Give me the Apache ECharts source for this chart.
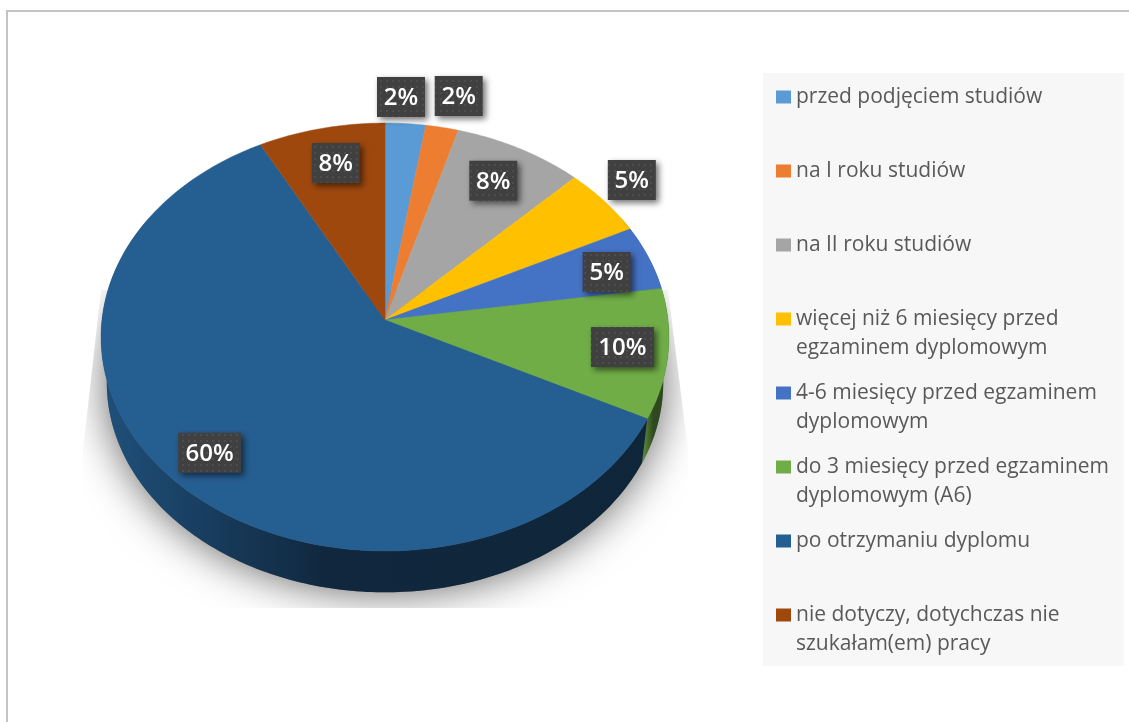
<!DOCTYPE html>
<html>
<head>
<meta charset="utf-8">
<title>Pie</title>
<script src="https://cdn.jsdelivr.net/npm/echarts@6/dist/echarts.min.js"></script>
<style>
	html, body { margin: 0; padding: 0; background: #fff; }
	#chart { width: 1129px; height: 722px; }
</style>
</head>
<body>
<div id="chart"></div>
<script>
const categories = [
	"przed podjęciem studiów",
	"na I roku studiów",
	"na II roku studiów",
	"więcej niż 6 miesięcy przed\negzaminem dyplomowym",
	"4-6 miesięcy przed egzaminem\ndyplomowym",
	"do 3 miesięcy przed egzaminem\ndyplomowym (A6)",
	"po otrzymaniu dyplomu",
	"nie dotyczy, dotychczas nie\nszukałam(em) pracy"
];
const values = [2.49, 2.01, 8.0, 5.2, 4.9, 9.8, 59.8, 7.8];
const colors = ["#5B9BD5", "#ED7D31", "#A5A5A5", "#FFC000", "#4472C4", "#70AD47", "#255E91", "#9E480E"];

// where each % box sits: radius on the disc and angle nudge from the slice middle
const labelRadius = [1.146, 1.185, 0.8, 1.153, 0.83, 0.84, 0.838, 0.806];
const labelNudge = [-1.4, 1.3, -0.3, -1.4, 1.4, -0.4, 0.5, 0.8];
const legendIconY = [97, 171, 245, 319, 393, 467, 541, 615];

const LINE_H = 29;
const total = values.reduce((a, b) => a + b, 0);

// perspective view of the disc, apex of the slices stays at (cx, cy)
const cx = 385, cy = 320, rx = 283, ry = 212.6, persp = 0.0795;
const wallScale = 0.98, wallDrop = 46;

function project(deg, r) {
	const t = deg * Math.PI / 180;
	const x = r * Math.sin(t);
	const y = -r * Math.cos(t);
	const w = 1 - persp * y;
	return [rx * x / w, ry * y / w];
}
const toTop = (p) => [cx + p[0], cy + p[1]];
const toBottom = (p) => [cx + p[0] * wallScale, cy + p[1] * wallScale + wallDrop];

function arc(from, to) {
	const pts = [];
	const n = Math.max(2, Math.ceil(to - from));
	for (let i = 0; i <= n; i++) pts.push(project(from + (to - from) * i / n, 1));
	return pts;
}

function shade(color, f) {
	const c = echarts.color.parse(color);
	return `rgb(${Math.round(c[0] * f)},${Math.round(c[1] * f)},${Math.round(c[2] * f)})`;
}

// small dotted fill of the label boxes
const dots = document.createElement("canvas");
dots.width = dots.height = 6;
const dotsCtx = dots.getContext("2d");
dotsCtx.fillStyle = "#404040";
dotsCtx.fillRect(0, 0, 6, 6);
dotsCtx.fillStyle = "#4d4d4d";
dotsCtx.fillRect(2, 2, 2, 2);

let sum = 0;
const spans = values.map((v) => {
	const span = [sum * 360 / total, (sum + v) * 360 / total];
	sum += v;
	return span;
});

function renderSlice(i) {
	const [start, end] = spans[i];
	const children = [];

	// side wall, only the front part can show
	const wallFrom = Math.max(start, 60), wallTo = Math.min(end, 300);
	if (wallTo > wallFrom) {
		const edge = arc(wallFrom, wallTo);
		children.push({
			type: "polygon",
			z2: 1,
			shape: {points: edge.map(toTop).concat(edge.map(toBottom).reverse())},
			style: {
				fill: new echarts.graphic.LinearGradient(0, 0, 1, 0, [
					{offset: 0, color: shade(colors[i], 0.85)},
					{offset: 0.42, color: shade(colors[i], 0.42)},
					{offset: 1, color: shade(colors[i], 0.4)}
				])
			}
		});
	}

	children.push({
		type: "polygon",
		z2: 2,
		shape: {points: [[cx, cy]].concat(arc(start, end).map(toTop))},
		style: {fill: colors[i], stroke: colors[i], lineWidth: 0.5}
	});

	const text = Math.round(values[i]) + "%";
	const c = toTop(project((start + end) / 2 + labelNudge[i], labelRadius[i]));
	const w = 18 + 15 * text.length, h = 40;
	children.push({
		type: "rect",
		z2: 3,
		shape: {x: c[0] - w / 2, y: c[1] - h / 2, width: w, height: h},
		style: {
			fill: {image: dots, repeat: "repeat"},
			shadowColor: "rgba(0,0,0,0.55)",
			shadowBlur: 6,
			shadowOffsetX: 3,
			shadowOffsetY: 3
		}
	});
	children.push({
		type: "text",
		z2: 4,
		style: {
			text: text,
			x: c[0],
			y: c[1] + 1,
			align: "center",
			verticalAlign: "middle",
			fill: "#fff",
			font: "600 24px 'Open Sans'"
		}
	});
	return {type: "group", children: children};
}

// soft shadow under the disc, cut off along the straight edges the original has.
// the shape itself stays hidden behind the wall, only its blur shows
function renderShadow() {
	return {
		type: "polygon",
		z2: 0,
		shape: {points: arc(0, 360).map(toBottom)},
		clipPath: {
			type: "polygon",
			shape: {points: [[101, 290], [83, 450], [83, 608], [688, 608], [688, 450], [668, 290]]}
		},
		style: {fill: "#777", shadowColor: "rgba(0,0,0,0.62)", shadowBlur: 44}
	};
}

const series = categories.map((name, i) => ({
	type: "custom",
	name: name,
	coordinateSystem: "none",
	silent: true,
	itemStyle: {color: colors[i]},
	data: [values[i]],
	renderItem: () => renderSlice(i)
}));
series.push({
	type: "custom",
	name: "shadow",
	coordinateSystem: "none",
	silent: true,
	data: [0],
	renderItem: renderShadow
});

// one legend per entry, the original has uneven row spacing.
// a blank first line keeps the icon next to the first line of a wrapped name
const legends = categories.map((name, i) => {
	const lines = name.split("\n").length;
	const blockH = LINE_H * (2 * lines - 1);
	return {
		data: [name],
		left: 776,
		top: legendIconY[i] - blockH / 2,
		padding: 0,
		itemWidth: 15,
		itemHeight: 13,
		itemGap: 0,
		icon: "rect",
		selectedMode: false,
		formatter: lines > 1 ? "\n{name}" : "{name}",
		textStyle: {
			color: "#595959",
			fontFamily: "Open Sans",
			fontSize: 21,
			lineHeight: LINE_H
		}
	};
});

const chart = echarts.init(document.getElementById("chart"), null, {renderer: "canvas"});
chart.setOption({
	animation: false,
	backgroundColor: "#fff",
	tooltip: {show: false},
	legend: legends,
	graphic: [
		{type: "rect", silent: true, shape: {x: 7, y: 10, width: 1122, height: 2}, style: {fill: "#c4c4c4"}},
		{type: "rect", silent: true, shape: {x: 6, y: 10, width: 2, height: 712}, style: {fill: "#c4c4c4"}},
		{type: "rect", silent: true, shape: {x: 763, y: 73, width: 361, height: 593}, style: {fill: "#f7f7f7"}}
	],
	series: series
});
</script>
</body>
</html>
